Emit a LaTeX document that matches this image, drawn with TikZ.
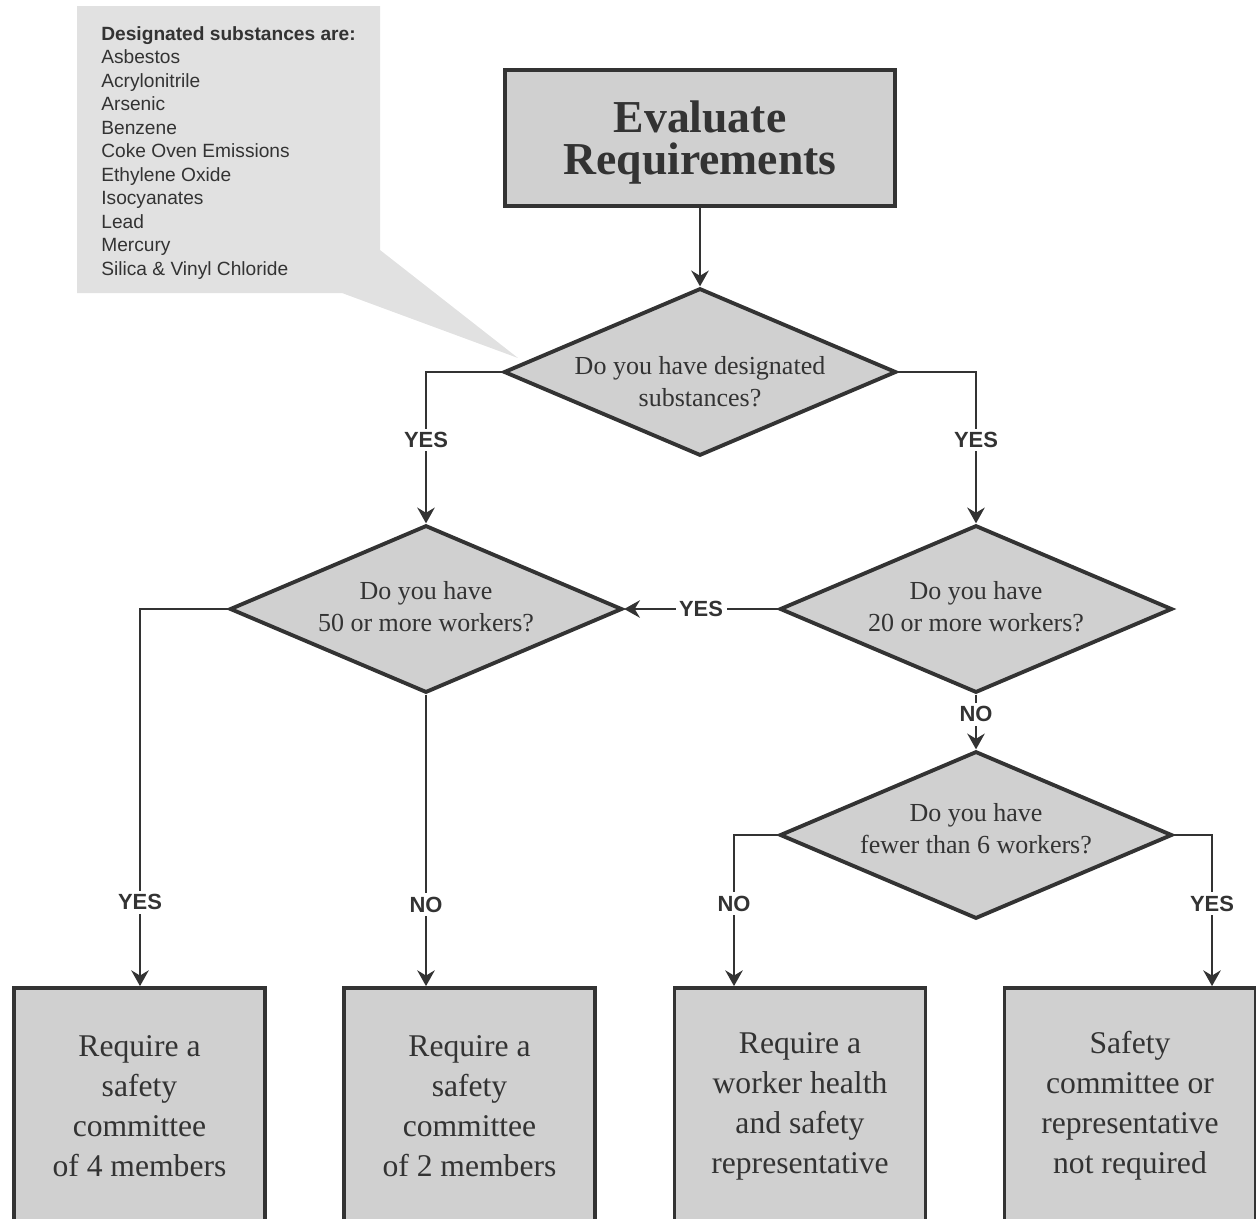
\documentclass[tikz,border=0pt]{standalone}
\usepackage{fontspec}
\setmainfont{Liberation Serif}
\setsansfont{Liberation Sans}
\usetikzlibrary{shapes.geometric,arrows.meta}
\definecolor{ink}{HTML}{333333}
\definecolor{boxfill}{HTML}{D0D0D0}
\definecolor{callfill}{HTML}{E1E1E1}
\tikzset{
  dec/.style={diamond, draw=ink, line width=2.2pt, fill=boxfill, minimum width=7.85cm, minimum height=3.35cm, inner sep=0pt},
  dectext/.style={align=center, text=ink, inner sep=0pt, font=\fontsize{14.8}{18.2}\selectfont},
  endbox/.style={rectangle, draw=ink, line width=2.2pt, fill=boxfill, minimum width=5.02cm, minimum height=4.72cm, align=center, text=ink, font=\fontsize{18}{22.8}\selectfont},
  startbox/.style={rectangle, draw=ink, line width=2.2pt, fill=boxfill, minimum width=7.8cm, minimum height=2.72cm},
  starttext/.style={align=center, text=ink, inner sep=0pt, font=\bfseries\fontsize{26}{24}\selectfont},
  arr/.style={draw=ink, line width=1.1pt, -{Stealth[length=9pt,width=10pt,inset=3pt]}},
  lbl/.style={fill=white, font=\sffamily\bfseries\fontsize{12.5}{14}\selectfont, text=ink, inner sep=2pt},
  calltext/.style={align=left, text=ink, inner sep=0pt, anchor=north west, font=\sffamily\fontsize{10.9}{13.37}\selectfont}
}
\begin{document}
\begin{tikzpicture}[x=0.02cm,y=-0.02cm]
\useasboundingbox (0,0) rectangle (1256,1218);
\clip (0,0) rectangle (1256,1218);
% callout
\fill[callfill] (77,6) -- (380,6) -- (380,250) -- (518,358) -- (342,293) -- (77,293) -- cycle;
\node[calltext] (call) at (101,26) {{\bfseries Designated substances are:}\\Asbestos\\Acrylonitrile\\Arsenic\\Benzene\\Coke Oven Emissions\\Ethylene Oxide\\Isocyanates\\Lead\\Mercury\\Silica \& Vinyl Chloride};
% nodes
\node[startbox, label={[starttext, yshift=-0.09cm]center:Evaluate\\Requirements}] (eval) at (700,138) {};
\node[dec, label={[dectext, yshift=-0.2cm]center:Do you have designated\\substances?}] (d1) at (700,372) {};
\node[dec, label={[dectext, yshift=0.05cm]center:Do you have\\50 or more workers?}] (d2) at (426,609) {};
\node[dec, label={[dectext, yshift=0.05cm]center:Do you have\\20 or more workers?}] (d3) at (976,609) {};
\node[dec, label={[dectext, yshift=0.12cm]center:Do you have\\fewer than 6 workers?}] (d4) at (976,835) {};
\node[endbox] (b1) at (139.5,1106) {Require a\\safety\\committee\\of 4 members};
\node[endbox] (b2) at (469.5,1106) {Require a\\safety\\committee\\of 2 members};
\node[endbox] (b3) at (800,1106) {Require a\\worker health\\and safety\\representative};
\node[endbox] (b4) at (1130,1106) {Safety\\committee or\\representative\\not required};
\coordinate (k1) at (140,0);
\coordinate (k3) at (734,0);
\coordinate (k4) at (1212,0);
% connectors
\draw[arr] (eval) -- (d1);
\draw[arr] (d1.west) -| node[lbl,pos=0.725]{YES} (d2.north);
\draw[arr] (d1.east) -| node[lbl,pos=0.725]{YES} (d3.north);
\draw[arr] (d3.west) -- node[lbl]{YES} (d2.east);
\draw[arr] (d3.south) -- node[lbl,pos=0.36]{NO} (d4.north);
\draw[arr] (d2.west) -| node[lbl,pos=0.889]{YES} (k1 |- b1.north);
\draw[arr] (d2.south) -- node[lbl,pos=0.72]{NO} (d2.south |- b2.north);
\draw[arr] (d4.west) -| node[lbl,pos=0.727]{NO} (k3 |- b3.north);
\draw[arr] (d4.east) -| node[lbl,pos=0.727]{YES} (k4 |- b4.north);
\end{tikzpicture}
\end{document}
